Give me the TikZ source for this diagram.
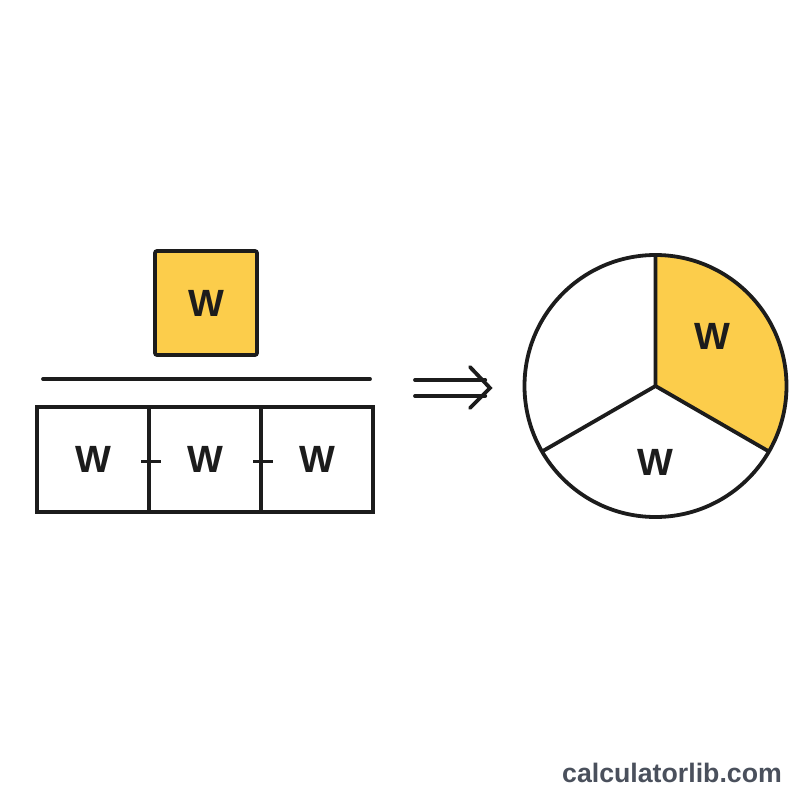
\documentclass[tikz,border=0pt]{standalone}
\usepackage{fontspec}
\setmainfont{Liberation Sans}
\usepackage{tikz}
\usetikzlibrary{positioning, calc}
\definecolor{partyellow}{HTML}{FCCD4B}
\definecolor{inkblack}{HTML}{1C1C1C}
\definecolor{sitegray}{HTML}{4A505C}
\tikzstyle{part} = [rectangle, rounded corners=1.5pt, draw=inkblack, line width=2.7pt, fill=partyellow, minimum width=2.55cm, minimum height=2.6cm, font=\fontsize{27}{31}\selectfont\bfseries, text=inkblack]
\tikzstyle{cell} = [rectangle, draw=inkblack, line width=2.7pt, minimum width=2.8cm, minimum height=2.625cm, font=\fontsize{27}{31}\selectfont\bfseries, text=inkblack, inner sep=0pt]
\tikzstyle{bar} = [draw=inkblack, line width=2.7pt, line cap=round]
\tikzstyle{lbl} = [font=\fontsize{27}{31}\selectfont\bfseries, text=inkblack]

\begin{document}
\begin{tikzpicture}
    \fill [white] (0,0) rectangle (20,-20);
    \useasboundingbox (0,0) rectangle (20,-20);
    % Nodes
    \node [part] (num) at (5.15,-7.575) {W};
    \coordinate (barl) at (1.075,-9.475);
    \coordinate (barr) at (9.25,-9.475);
    \node [cell] (c1) at (2.33,-11.4875) {W};
    \node [cell, right=-2.7pt of c1] (c2) {W};
    \node [cell, right=-2.7pt of c2] (c3) {W};
    \coordinate (pie) at (16.3875,-9.65);
    \node [font=\fontsize{19}{23}\selectfont\bfseries, text=sitegray] (site) at (16.8,-19.325) {calculatorlib.com};

    % Fraction bar and plus signs
    \path [bar] (barl) -- (barr);
    \path [bar, line cap=butt] ($(c1.east)+(-0.25,-0.05)$) -- ($(c1.east)+(0.25,-0.05)$);
    \path [bar, line cap=butt] ($(c2.east)+(-0.25,-0.05)$) -- ($(c2.east)+(0.25,-0.05)$);

    % Implies arrow
    \coordinate (arrl) at (10.375,-9.7);
    \coordinate (arrr) at (12.25,-9.7);
    \path [bar] ($(arrl)+(0,0.2)$) -- ($(arrr)+(-0.12,0.2)$);
    \path [bar] ($(arrl)+(0,-0.2)$) -- ($(arrr)+(-0.12,-0.2)$);
    \path [bar, line join=miter] ($(arrr)+(-0.5,0.525)$) -- (arrr) -- ($(arrr)+(-0.5,-0.5)$);

    % Pie
    \fill [partyellow] (pie) -- ++(90:3.275) arc (90:-30:3.275) -- cycle;
    \draw [inkblack, line width=2.7pt] (pie) circle (3.275);
    \draw [inkblack, line width=2.7pt, line join=round] (pie) -- ++(90:3.275) (pie) -- ++(210:3.275) (pie) -- ++(330:3.275);
    \node [lbl] (pw1) at ($(pie)+(41:1.87)$) {W};
    \node [lbl] (pw2) at ($(pie)+(270:1.9)$) {W};
\end{tikzpicture}
\end{document}
